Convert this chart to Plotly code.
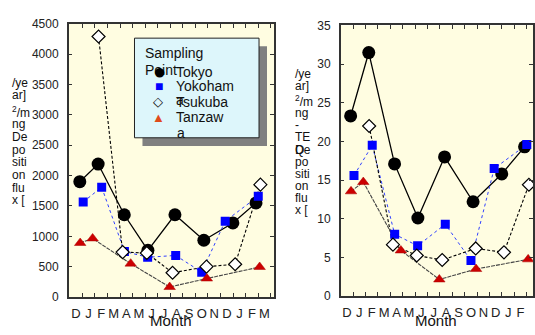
import plotly.graph_objects as go

W, H = 535, 335

# ---- data (x = months counted from start of December) ----
month_labels = ["D", "J", "F", "M", "A", "M", "J", "J", "A", "S", "O", "N", "D", "J", "F", "M"]

tokyo_x = [0.8, 2.26, 4.34, 6.22, 8.37, 10.67, 12.98, 14.82]
tokyo_flux = [1900, 2190, 1355, 770, 1355, 935, 1220, 1550]
tokyo_teq = [23.3, 31.5, 17.1, 10.1, 18.0, 12.2, 15.8, 19.3]

yokohama_x = [1.07, 2.54, 4.35, 6.2, 8.43, 10.5, 12.37, 15.0]
yokohama_flux = [1565, 1810, 750, 655, 685, 410, 1250, 1660]
yokohama_teq = [15.6, 19.5, 8.0, 6.5, 9.3, 4.6, 16.5, 19.6]

tsukuba_x = [2.29, 4.21, 6.13, 8.18, 10.88, 13.16, 15.17]
tsukuba_flux = [4290, 740, 725, 400, 500, 540, 1850]
tsukuba_teq = [22.0, 6.65, 5.25, 4.67, 6.16, 5.66, 14.4]

tanzawa_x = [0.83, 1.82, 4.85, 7.95, 10.91, 15.11]
tanzawa_flux = [890, 965, 550, 165, 305, 495]
tanzawa_teq = [13.55, 14.75, 5.9, 2.15, 3.5, 4.75]

left_title_lines = ["/ye", "ar]", "<sup>2</sup>/m", "ng", "De", "po", "siti", "on", "flu", "x ["]
right_title_lines = ["/ye", "ar]", "<sup>2</sup>/m", "ng", "-", "TE", "Q", "po", "siti", "on", "flu", "x ["]

FONT = "Liberation Sans, Arial, sans-serif"
BG = "#FFFDE1"


def px_x(p):
    return p / W


def px_y(p):
    return 1 - p / H


fig = go.Figure()

series = [
    ("Tokyo", tokyo_x, tokyo_flux, tokyo_teq,
     dict(symbol="circle", size=13, color="black"),
     dict(color="black", width=1.3, dash="solid")),
    ("Yokohama", yokohama_x, yokohama_flux, yokohama_teq,
     dict(symbol="square", size=9, color="#0000FF"),
     dict(color="#3040FF", width=1, dash="dot")),
    ("Tsukuba", tsukuba_x, tsukuba_flux, tsukuba_teq,
     dict(symbol="diamond", size=10, color="white", line=dict(color="black", width=1.2)),
     dict(color="black", width=1.1, dash="3px,2px")),
    ("Tanzawa", tanzawa_x, tanzawa_flux, tanzawa_teq,
     dict(symbol="triangle-up", size=10, color="#CC0000", line=dict(color="#AA0000", width=0.5)),
     dict(color="#444444", width=1.1, dash="4px,1px")),
]

# draw lines first so that markers sit on top
for name, xs, yl, yr, mk, ln in series:
    fig.add_trace(go.Scatter(x=xs, y=yl, mode="lines", line=ln, xaxis="x", yaxis="y",
                             showlegend=False, hoverinfo="skip"))
    fig.add_trace(go.Scatter(x=xs, y=yr, mode="lines", line=ln, xaxis="x2", yaxis="y2",
                             showlegend=False, hoverinfo="skip"))
for name, xs, yl, yr, mk, ln in series:
    fig.add_trace(go.Scatter(x=xs, y=yl, mode="markers", marker=mk, name=name,
                             xaxis="x", yaxis="y", showlegend=False))
    fig.add_trace(go.Scatter(x=xs, y=yr, mode="markers", marker=mk, name=name,
                             xaxis="x2", yaxis="y2", showlegend=False))

mid_vals = [i + 0.5 for i in range(len(month_labels))]
minor_vals = list(range(1, 17))

xcommon = dict(
    tickmode="array", tickvals=mid_vals, ticktext=month_labels, ticks="",
    showgrid=False, zeroline=False, showline=True, linecolor="#333", linewidth=1.5,
    mirror="ticks", tickfont=dict(family=FONT, size=13, color="#222"),
    minor=dict(tickmode="array", tickvals=minor_vals, ticks="inside", ticklen=4,
               tickcolor="#333", tickwidth=1, showgrid=False),
    ticklabelstandoff=4,
)
ycommon = dict(
    ticks="inside", ticklen=4, tickcolor="#333", showgrid=False, zeroline=False,
    showline=True, linecolor="#333", linewidth=1.5, mirror="ticks",
    tickfont=dict(family=FONT, size=12, color="#222"), ticklabelstandoff=6,
)

fig.update_layout(
    width=W, height=H, margin=dict(l=0, r=0, t=0, b=0),
    paper_bgcolor="white", plot_bgcolor=BG,
    xaxis=dict(domain=[px_x(69), px_x(275)], range=[-0.08, 16.25], anchor="y", **xcommon),
    yaxis=dict(domain=[px_y(302.7), px_y(17.5)], range=[0, 4500], dtick=500, anchor="x", **ycommon),
    xaxis2=dict(domain=[px_x(342), 1.0], range=[0, 15.5], anchor="y2", **xcommon),
    yaxis2=dict(domain=[px_y(301.7), px_y(19.3)], range=[0, 35], dtick=5, anchor="x2", **ycommon),
    showlegend=False,
)

ann = []
shapes = []


def text(x, y, s, size=12, color="#111", anchor="left"):
    ann.append(dict(x=px_x(x), y=px_y(y), xref="paper", yref="paper", text=s,
                    showarrow=False, xanchor=anchor, yanchor="middle",
                    font=dict(family=FONT, size=size, color=color), borderpad=0))


# y-axis titles (wrapped narrowly as in the original)
for i, s in enumerate(left_title_lines):
    y = 79 + 13.2 * i + (4 if i >= 2 else 0)
    text(11, y, s, size=12)
for i, s in enumerate(right_title_lines):
    y = 70 + 12.7 * i + (2.6 if i >= 2 else 0)
    text(295, y, s, size=12)
    if s == "Q":
        text(295, y, "De", size=12)

# x-axis titles
text(172, 327, "Month", size=15, anchor="center")
text(438, 327, "Month", size=15, anchor="center")

# legend box with shadow
shapes.append(dict(type="rect", xref="paper", yref="paper", x0=px_x(143), x1=px_x(268),
                   y0=px_y(145), y1=px_y(41), fillcolor="#808080", line=dict(width=0), layer="above"))
shapes.append(dict(type="rect", xref="paper", yref="paper", x0=px_x(135), x1=px_x(260),
                   y0=px_y(136.5), y1=px_y(32.5), fillcolor="#DDF6FB",
                   line=dict(color="#222", width=1), layer="above"))
fig.update_layout(shapes=shapes)

text(145, 48, "Sampling", size=14)
text(145, 66, "Point", size=14)
text(160, 67, "●", size=22, color="black", anchor="center")
text(176, 68, "Tokyo", size=14)
text(159.5, 82, "■", size=14, color="#0000FF", anchor="center")
text(176, 82, "Yokoham", size=14)
text(176, 97, "a", size=14)
text(159, 99, "◇", size=13, color="black", anchor="center")
text(176, 99, "Tsukuba", size=14)
text(159, 115, "▲", size=13, color="#E04A1A", anchor="center")
text(176, 115, "Tanzaw", size=14)
text(177, 132, "a", size=14)

fig.update_layout(annotations=ann)
fig.write_html("out.html", config={"displayModeBar": False},
               post_script="document.body.style.margin='0';document.body.style.overflow='hidden';")
